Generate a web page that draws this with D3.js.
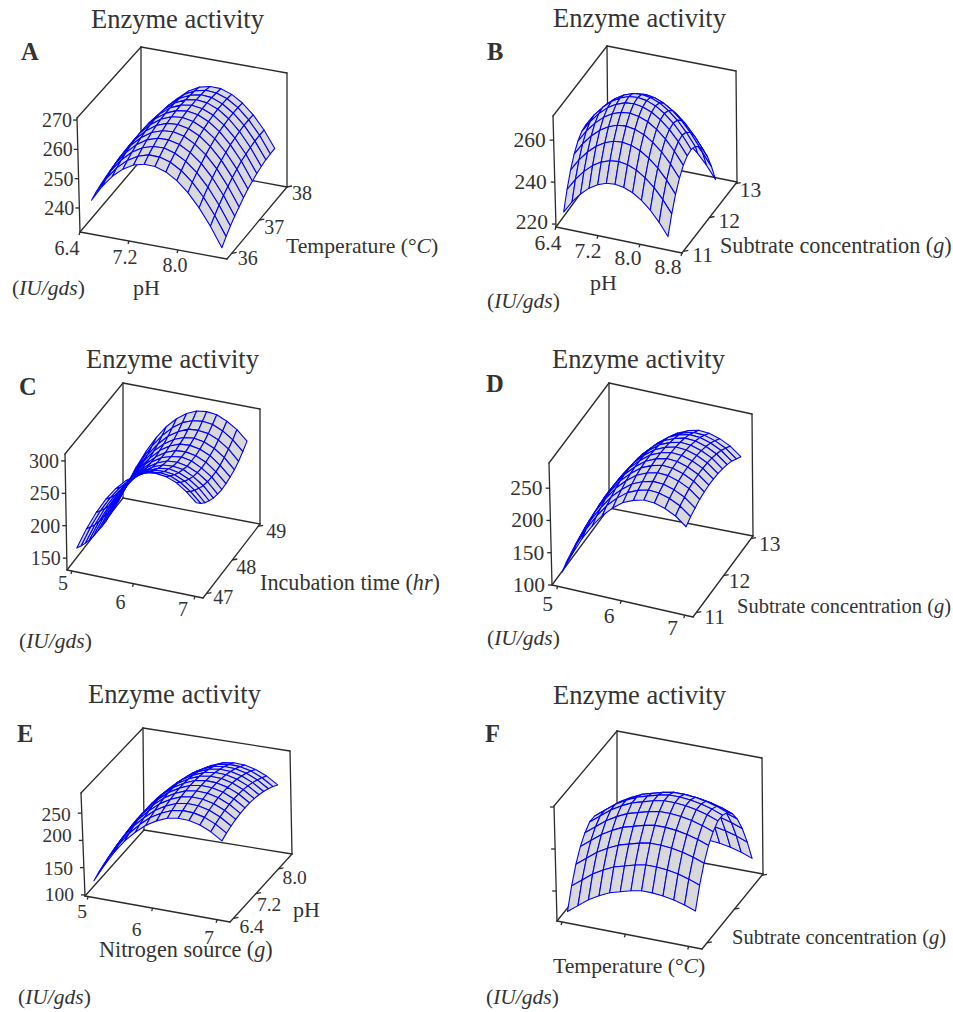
<!DOCTYPE html>
<html>
<head>
<meta charset="utf-8">
<title>Enzyme activity</title>
<script src="https://cdn.jsdelivr.net/npm/d3@7"></script>
<style>
    html, body { margin: 0; padding: 0; background: #fff; }
    svg { display: block; }
    text { font-family: "Liberation Serif", serif; fill: #333; }
</style>
</head>
<body>
<svg id="chart" width="953" height="1012"></svg>
<script>
// surface heights, rows run from the front edge to the back wall
const activityA = [
    [241.7,247.0,251.2,254.3,256.4,257.3,257.2,256.0,253.7,250.3,245.8,240.2,233.6],
    [242.6,248.0,252.3,255.5,257.6,258.7,258.6,257.5,255.3,252.0,247.6,242.1,235.6],
    [243.3,248.8,253.2,256.5,258.7,259.8,259.9,258.8,256.7,253.5,249.2,243.8,237.4],
    [243.8,249.4,253.9,257.3,259.6,260.8,260.9,260.0,257.9,254.8,250.6,245.3,238.9],
    [244.3,249.9,254.5,257.9,260.3,261.6,261.9,261.0,259.0,256.0,251.9,246.6,240.3],
    [244.4,250.1,254.8,258.4,260.9,262.3,262.6,261.8,260.0,257.0,253.0,247.8,241.6],
    [244.5,250.3,255.1,258.7,261.3,262.8,263.2,262.5,260.7,257.9,253.9,248.9,242.8],
    [244.4,250.3,255.1,258.9,261.5,263.1,263.6,263.0,261.3,258.6,254.7,249.8,243.7],
    [244.0,250.1,255.0,258.8,261.6,263.2,263.8,263.3,261.7,259.0,255.2,250.4,244.5],
    [243.6,249.8,254.7,258.6,261.5,263.2,263.9,263.5,262.0,259.4,255.7,250.9,245.1],
    [242.9,249.1,254.2,258.3,261.2,263.0,263.8,263.5,262.0,259.5,256.0,251.3,245.6],
    [242.2,248.5,253.7,257.7,260.8,262.7,263.6,263.3,262.0,259.6,256.1,251.5,245.8],
    [241.3,247.6,252.9,257.1,260.2,262.2,263.1,263.0,261.7,259.4,256.0,251.5,245.9]
];
const activityB = [
    [224.1,229.8,234.4,238.0,240.5,242.0,242.4,241.7,240.0,237.2,233.4,228.5,222.6],
    [232.4,238.1,242.7,246.3,248.8,250.3,250.7,250.0,248.3,245.5,241.7,236.8,230.9],
    [239.2,244.9,249.5,253.1,255.6,257.1,257.5,256.8,255.1,252.3,248.5,243.6,237.7],
    [244.4,250.1,254.7,258.3,260.8,262.3,262.7,262.0,260.3,257.5,253.7,248.8,242.9],
    [248.1,253.8,258.4,262.0,264.5,266.0,266.4,265.7,264.0,261.2,257.4,252.5,246.6],
    [250.2,255.9,260.5,264.1,266.6,268.1,268.5,267.8,266.1,263.3,259.5,254.6,248.7],
    [250.8,256.5,261.1,264.7,267.2,268.7,269.1,268.4,266.7,263.9,260.1,255.2,249.3],
    [249.8,255.5,260.1,263.7,266.2,267.7,268.1,267.4,265.7,262.9,259.1,254.2,248.3],
    [247.3,253.0,257.6,261.2,263.7,265.2,265.6,264.9,263.2,260.4,256.6,251.7,245.8],
    [243.3,249.0,253.6,257.2,259.7,261.2,261.6,260.9,259.2,256.4,252.6,247.7,241.8],
    [237.7,243.4,248.0,251.6,254.1,255.6,256.0,255.3,253.6,250.8,247.0,242.1,236.2],
    [230.5,236.2,240.8,244.4,246.9,248.4,248.8,248.1,246.4,243.6,239.8,234.9,229.0],
    [221.8,227.5,232.1,235.7,238.2,239.7,240.1,239.4,237.7,234.9,231.1,226.2,220.3]
];
const activityC = [
    [161,194,222,246,265,280,291,298,300,298,292,281,267],
    [156,189,217,240,259,274,285,291,293,291,284,273,258],
    [152,184,212,235,254,269,279,286,287,285,278,267,251],
    [149,181,208,232,250,265,275,281,283,280,273,262,246],
    [147,179,206,229,248,262,272,278,279,277,269,258,242],
    [146,177,205,227,246,260,270,276,277,274,267,256,240],
    [145,177,204,227,245,260,270,275,277,274,266,255,239],
    [145,177,204,227,246,260,270,276,277,274,267,255,240],
    [147,178,206,229,247,262,272,278,279,276,269,257,242],
    [149,180,208,231,250,264,274,280,282,279,272,261,245],
    [151,183,211,234,253,268,278,285,286,284,277,266,250],
    [155,187,215,239,258,273,284,290,292,290,283,272,257],
    [160,192,220,244,264,279,290,297,299,297,290,280,265]
];
const activityD = [
    [117,148,176,199,219,234,246,253,257,256,251,243,230],
    [123,154,182,205,225,240,252,259,263,262,257,249,236],
    [127,158,186,209,229,244,256,263,267,266,261,253,240],
    [131,162,190,213,233,248,260,267,271,270,265,257,244],
    [133,164,192,215,235,250,262,269,273,272,267,259,246],
    [134,165,193,216,236,251,263,270,274,273,268,260,247],
    [134,165,193,216,236,251,263,270,274,273,268,260,247],
    [133,164,192,215,235,250,262,269,273,272,267,259,246],
    [131,162,190,213,233,248,260,267,271,270,265,257,244],
    [128,159,187,210,230,245,257,264,268,267,262,254,241],
    [124,155,183,206,226,241,253,260,264,263,258,250,237],
    [118,149,177,200,220,235,247,254,258,257,252,244,231],
    [112,143,171,194,214,229,241,248,252,251,246,238,225]
];
const activityE = [
    [122,153,181,205,224,240,251,259,262,261,256,247,234],
    [127,158,186,210,229,245,256,264,267,266,261,252,239],
    [131,162,190,214,233,249,260,268,271,270,265,256,243],
    [134,165,193,217,236,252,263,271,274,273,268,259,246],
    [136,167,195,219,238,254,265,273,276,275,270,261,248],
    [137,168,196,220,239,255,266,274,277,276,271,262,249],
    [137,168,196,220,239,255,266,274,277,276,271,262,249],
    [136,167,195,219,238,254,265,273,276,275,270,261,248],
    [134,165,193,217,236,252,263,271,274,273,268,259,246],
    [131,162,190,214,233,249,260,268,271,270,265,256,243],
    [127,158,186,210,229,245,256,264,267,266,261,252,239],
    [122,153,181,205,224,240,251,259,262,261,256,247,234],
    [116,147,175,199,218,234,245,253,256,255,250,241,228]
];
// panel F has no printed activity scale, so these are relative heights
const activityF = [
    [8,16,24,30,35,38,41,43,43,42,40,37,33],
    [28,36,44,50,55,58,61,63,63,62,60,57,53],
    [44,52,60,66,71,74,77,79,79,78,76,73,69],
    [56,64,72,78,83,86,89,91,91,90,88,85,81],
    [64,72,80,86,91,94,97,99,99,98,96,93,89],
    [69,77,85,91,96,99,102,104,104,103,101,98,94],
    [69,77,85,91,96,99,102,104,104,103,101,98,94],
    [66,74,82,88,93,96,99,101,101,100,98,95,91],
    [59,67,75,81,86,89,92,94,94,93,91,88,84],
    [48,56,64,70,75,78,81,83,83,82,80,77,73],
    [33,41,49,55,60,63,66,68,68,67,65,62,58],
    [14,22,30,36,41,44,47,49,49,48,46,43,39],
    [0,2,8,14,19,22,25,27,27,26,24,21,17]
];

const xTicksA = ["6.4", "7.2", "8.0"], yTicksA = ["36", "37", "38"], zTicksA = ["240", "250", "260", "270"];
const xTicksB = ["6.4", "7.2", "8.0", "8.8"], yTicksB = ["11", "12", "13"], zTicksB = ["220", "240", "260"];
const xTicksC = ["5", "6", "7"], yTicksC = ["47", "48", "49"], zTicksC = ["150", "200", "250", "300"];
const xTicksD = ["5", "6", "7"], yTicksD = ["11", "12", "13"], zTicksD = ["100", "150", "200", "250"];
const xTicksE = ["5", "6", "7"], yTicksE = ["6.4", "7.2", "8.0"], zTicksE = ["100", "150", "200", "250"];
const xTicksF = [36, 37, 38], yTicksF = [11, 12, 13], zTicksF = [30, 72, 114];

// text pieces, second value marks the italic ones
const labelPH = [["pH"]];
const labelTemperature = [["Temperature (°"], ["C", true], [")"]];
const labelSubstrate = [["Subtrate concentration ("], ["g", true], [")"]];
const labelIncubation = [["Incubation time ("], ["hr", true], [")"]];
const labelNitrogen = [["Nitrogen source ("], ["g", true], [")"]];
const labelUnit = [["("], ["IU/gds", true], [")"]];

// where each panel sits on the page. floor/top are the box corners as
// [front left, front right, back right, back left], the top front right is never drawn
const panels = [
    {
        letter: "A", letterAt: [21, 60], titleAt: [91, 28], unitAt: [12, 295],
        z: activityA, xTicks: xTicksA, yTicks: yTicksA, zTicks: zTicksA,
        xDomain: [6.4, 8.8], yDomain: [35.83, 38], zDomain: [231.8, 270.7],
        xSpan: [6.54, 8.66], ySpan: [35.96, 37.87],
        floor: [[80, 232], [227, 259], [287, 187], [141, 160]],
        top: [[77, 118], [223, 144], [287, 73], [141, 47]],
        tickSize: 20,
        xLabelOffsets: [[-13, 23], [-4, 23], [-3, 22]],
        yLabelOffsets: [[6, 12], [5, 14], [5, 13]],
        zLabelOffsets: [[-5, 7], [-5, 7], [-5, 7], [-5, 7]],
        titles: [[labelPH, 133, 295, 22], [labelTemperature, 286, 253, 21.7]]
    },
    {
        letter: "B", letterAt: [487, 60], titleAt: [553, 27], unitAt: [487, 308],
        z: activityB, xTicks: xTicksB, yTicks: yTicksB, zTicks: zTicksB,
        xDomain: [6.4, 8.8], yDomain: [10.95, 13.05], zDomain: [218.6, 271.5],
        xSpan: [6.49, 8.47], ySpan: [11.08, 12.91],
        floor: [[556, 227], [682, 253], [737, 182], [608, 156]],
        top: [[553, 116], [681, 141], [736, 71], [607, 46]],
        tickSize: 21.5,
        xLabelOffsets: [[-8, 23], [-10, 22], [-12, 21], [-14, 21]],
        yLabelOffsets: [[9, 11], [9, 10], [4, 13]],
        zLabelOffsets: [[-8, 5], [-8, 7], [-8, 7]],
        titles: [[labelPH, 590, 290, 22], [labelSubstrate, 720, 253, 22.2]]
    },
    {
        letter: "C", letterAt: [19, 395], titleAt: [86, 368], unitAt: [19, 648],
        z: activityC, xTicks: xTicksC, yTicks: yTicksC, zTicks: zTicksC,
        xDomain: [4.92, 7.13], yDomain: [46.87, 49.07], zDomain: [131.6, 310.7],
        xSpan: [5.03, 6.98], ySpan: [47, 48.93],
        floor: [[67, 570], [203, 598], [260, 524], [123, 498]],
        top: [[65, 454], [202, 480], [260, 409], [123, 383]],
        tickSize: 20,
        xLabelOffsets: [[-9, 19], [-13, 25], [-12, 20]],
        yLabelOffsets: [[7, 10], [4, 14], [8, 12]],
        zLabelOffsets: [[-6, 7], [-6, 7], [-6, 7], [-6, 7]],
        titles: [[labelIncubation, 260, 590, 22.2]]
    },
    {
        letter: "D", letterAt: [486, 392], titleAt: [552, 368], unitAt: [487, 645],
        z: activityD, xTicks: xTicksD, yTicks: yTicksD, zTicks: zTicksD,
        xDomain: [4.91, 7.13], yDomain: [10.88, 13.07], zDomain: [100, 289],
        xSpan: [5.03, 6.99], ySpan: [10.98, 12.98],
        floor: [[552, 585], [693, 617], [753, 536], [609, 508]],
        top: [[549, 463], [692, 494], [752, 414], [609, 383]],
        tickSize: 21.5,
        xLabelOffsets: [[-10, 25], [-12, 22], [-12, 20]],
        yLabelOffsets: [[8, 11], [5, 12], [8, 12]],
        zLabelOffsets: [[-7, 7], [-7, 7], [-7, 7], [-7, 7]],
        titles: [[labelSubstrate, 737, 613, 20.5]]
    },
    {
        letter: "E", letterAt: [17, 742], titleAt: [88, 703], unitAt: [18, 1004],
        z: activityE, xTicks: xTicksE, yTicks: yTicksE, zTicks: zTicksE,
        xDomain: [4.95, 7.2], yDomain: [6.28, 8.48], zDomain: [98, 287],
        xSpan: [5.05, 7.05], ySpan: [6.39, 8.37],
        floor: [[85, 896], [230, 922], [292, 854], [144, 830]],
        top: [[81, 793], [228, 816], [290, 751], [143, 728]],
        tickSize: 19.5,
        xLabelOffsets: [[-6, 21], [-16, 28], [-8, 24]],
        yLabelOffsets: [[6, 15], [1, 17], [4, 15]],
        zLabelOffsets: [[-11, 6], [-11, 7], [-11, 2], [-11, 8]],
        titles: [[labelNitrogen, 99, 957, 22.2], [labelPH, 293, 917, 22]]
    },
    {
        letter: "F", letterAt: [485, 742], titleAt: [553, 704], unitAt: [486, 1004],
        z: activityF, xTicks: xTicksF, yTicks: yTicksF, zTicks: zTicksF,
        xDomain: [35.92, 38.21], yDomain: [10.82, 13.04], zDomain: [0, 115],
        xSpan: [36.05, 38.08], ySpan: [10.91, 12.95],
        floor: [[557, 921], [702, 949], [763, 874], [617, 847]],
        top: [[554, 806], [699, 833], [762, 758], [617, 731]],
        hideTickLabels: true,
        titles: [[labelTemperature, 553, 973, 21.7], [labelSubstrate, 732, 944, 20.5]]
    }
];

const svg = d3.select("#chart");
svg.append("rect").attr("width", 953).attr("height", 1012).attr("fill", "#fff");

const boxColor = "#2b2b2b";
const meshColor = "#0000ff";
const meshFill = "#d9d9d9";

function addText(g, pieces, x, y, size) {
    const t = g.append("text").attr("x", x).attr("y", y).style("font-size", size + "px");
    pieces.forEach((p) => {
        t.append("tspan").text(p[0]).style("font-style", p[1] ? "italic" : "normal");
    });
    return t;
}

function makeProjection(panel) {
    const uScale = d3.scaleLinear().domain(panel.xDomain).range([0, 1]);
    const vScale = d3.scaleLinear().domain(panel.yDomain).range([0, 1]);
    const wScale = d3.scaleLinear().domain(panel.zDomain).range([0, 1]);
    const bilinear = (c, u, v) => {
        const front = d3.interpolate(c[0], c[1])(u);
        const back = d3.interpolate(c[3], c[2])(u);
        return d3.interpolate(front, back)(v);
    };
    return (x, y, z) => {
        const u = uScale(x), v = vScale(y);
        return d3.interpolate(bilinear(panel.floor, u, v), bilinear(panel.top, u, v))(wScale(z));
    };
}

function drawBox(g, panel) {
    const f = panel.floor, t = panel.top;
    const segments = [
        [f[0], f[1]], [f[1], f[2]], [f[2], f[3]], [f[3], f[0]],
        [f[0], t[0]], [f[3], t[3]], [f[2], t[2]],
        [t[0], t[3]], [t[3], t[2]]
    ];
    g.append("g").selectAll("line")
        .data(segments)
        .enter()
        .append("line")
        .attr("x1", (d) => d[0][0])
        .attr("y1", (d) => d[0][1])
        .attr("x2", (d) => d[1][0])
        .attr("y2", (d) => d[1][1])
        .attr("stroke", boxColor)
        .attr("stroke-width", 1.3)
        .attr("stroke-linecap", "round");
}

function drawAxes(g, panel, project) {
    const [x0, x1] = panel.xDomain, [y0, y1] = panel.yDomain, [z0] = panel.zDomain;
    const labels = g.append("g").style("font-size", panel.tickSize + "px");
    const ticks = [];
    panel.xTicks.forEach((d, i) => {
        const p = project(+d, y0, z0);
        ticks.push([p, [p[0] - 1, p[1] + 3]]);
        if (!panel.hideTickLabels) {
            const o = panel.xLabelOffsets[i];
            labels.append("text").attr("x", p[0] + o[0]).attr("y", p[1] + o[1])
                .attr("text-anchor", "middle").text(d);
        }
    });
    panel.yTicks.forEach((d, i) => {
        const p = project(x1, +d, z0);
        ticks.push([p, [p[0] + 5, p[1] - 1]]);
        if (!panel.hideTickLabels) {
            const o = panel.yLabelOffsets[i];
            labels.append("text").attr("x", p[0] + o[0]).attr("y", p[1] + o[1]).text(d);
        }
    });
    panel.zTicks.forEach((d, i) => {
        const p = project(x0, y0, +d);
        ticks.push([p, [p[0] - 4, p[1]]]);
        if (!panel.hideTickLabels) {
            const o = panel.zLabelOffsets[i];
            labels.append("text").attr("x", p[0] + o[0]).attr("y", p[1] + o[1])
                .attr("text-anchor", "end").text(d);
        }
    });
    g.append("g").selectAll("line")
        .data(ticks)
        .enter()
        .append("line")
        .attr("x1", (d) => d[0][0])
        .attr("y1", (d) => d[0][1])
        .attr("x2", (d) => d[1][0])
        .attr("y2", (d) => d[1][1])
        .attr("stroke", boxColor)
        .attr("stroke-width", 1.3);
}

function drawSurface(g, panel, project) {
    const rows = panel.z.length, cols = panel.z[0].length;
    const xAt = d3.scaleLinear().domain([0, cols - 1]).range(panel.xSpan);
    const yAt = d3.scaleLinear().domain([0, rows - 1]).range(panel.ySpan);
    const corner = (i, j) => project(xAt(i), yAt(j), panel.z[j][i]);
    // back rows first, left to right, so nearer cells paint over the far ones
    const cells = [];
    for (let j = rows - 2; j >= 0; j--) {
        for (let i = 0; i < cols - 1; i++) {
            cells.push([corner(i, j), corner(i + 1, j), corner(i + 1, j + 1), corner(i, j + 1)]);
        }
    }
    const line = d3.line().curve(d3.curveLinearClosed);
    g.append("g").selectAll("path")
        .data(cells)
        .enter()
        .append("path")
        .attr("d", (d) => line(d))
        .attr("fill", meshFill)
        .attr("stroke", meshColor)
        .attr("stroke-width", 1.1)
        .attr("stroke-linejoin", "round");
}

panels.forEach((panel) => {
    const g = svg.append("g");
    const project = makeProjection(panel);
    drawBox(g, panel);
    drawAxes(g, panel, project);
    drawSurface(g, panel, project);

    addText(g, [["Enzyme activity"]], panel.titleAt[0], panel.titleAt[1], 26.5);
    addText(g, [[panel.letter]], panel.letterAt[0], panel.letterAt[1], 24.5).style("font-weight", "bold");
    addText(g, labelUnit, panel.unitAt[0], panel.unitAt[1], 21.5);
    panel.titles.forEach((d) => {
        addText(g, d[0], d[1], d[2], d[3]);
    });
});
</script>
</body>
</html>
